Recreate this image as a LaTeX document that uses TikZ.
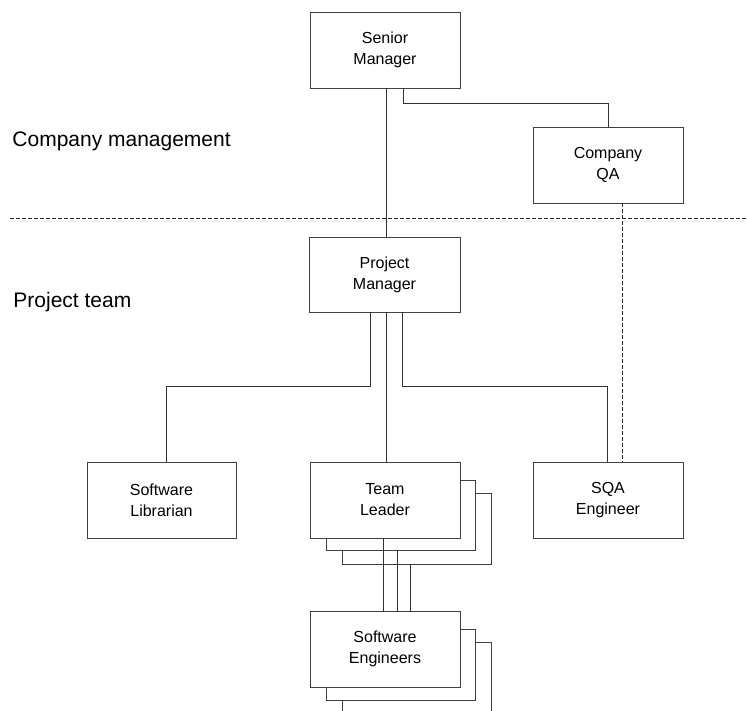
\documentclass[tikz,border=0pt]{standalone}
\usepackage{fontspec}
\setmainfont{Liberation Sans}
\begin{document}
\begin{tikzpicture}[x=1pt,y=-1pt,
  line width=0.9pt,
  ln/.style={draw=black!80},
  box/.style={draw=black!75, fill=white, minimum width=150pt, minimum height=76pt,
    inner sep=0pt, align=center, font=\fontsize{16}{21}\selectfont},
  shadowbox/.style={draw=black!75, fill=white, inner sep=0pt},
  lbl/.style={anchor=base west, inner sep=0pt, font=\fontsize{21}{25}\selectfont},
  dl/.style={draw=black!85, dash pattern=on 4pt off 2pt, line width=0.8pt}]
\useasboundingbox (0,0) rectangle (747,710);

% labels
\node[lbl] (cm) at (12,146) {Company management};
\node[lbl] (pt) at (13,307) {Project team};

% separator
\coordinate (sepL) at (10,218);
\coordinate (sepR) at (747,218);
\draw[dl] (sepL) -- (sepR);

% main boxes
\node[box] (SM) at (385,50) {Senior\\Manager};
\node[box] (QA) at (608,165) {Company\\QA};
\node[box, minimum width=151pt, minimum height=75pt] (PM) at (384.5,274.5) {Project\\Manager};
\node[box, minimum width=149pt] (SL) at (161.5,500) {Software\\Librarian};
\node[box] (SQA) at (608,500) {SQA\\Engineer};

% team leader stack
\node[shadowbox, minimum width=149pt, minimum height=71pt] (TL3) at (416.5,528.5) {};
\node[shadowbox, minimum width=149pt, minimum height=70pt] (TL2) at (400.5,515) {};
\node[box] (TL) at (385,500) {Team\\Leader};

% software engineers stack
\node[shadowbox, minimum width=149pt, minimum height=100pt] (SE3) at (416.5,692) {};
\node[shadowbox, minimum width=149pt, minimum height=71pt] (SE2) at (400.5,664.5) {};
\node[box] (SE) at (385,649) {Software\\Engineers};

% connectors
\draw[ln] ([xshift=1.5pt]SM.south) -- ([xshift=1.5pt]SM.south |- PM.north);
\draw[ln] ([xshift=18pt]SM.south) -- ++(0,15) -| (QA.north);
\draw[ln] ([xshift=-14.5pt]PM.south) -- ++(0,74) -| ([xshift=4.5pt]SL.north);
\draw[ln] ([xshift=1.5pt]PM.south) -- ([xshift=1.5pt]PM.south |- TL.north);
\draw[ln] ([xshift=17.5pt]PM.south) -- ++(0,74) -| ([xshift=-1pt]SQA.north);
\draw[dl] ([xshift=14pt]QA.south) -- ([xshift=14pt]SQA.north);

\draw[ln] ([xshift=-2pt]TL.south) -- ([xshift=-2pt]SE.north);
\draw[ln] ([xshift=-3.5pt]TL2.south) -- ([xshift=-3.5pt]TL2.south |- SE.north);
\draw[ln] ([xshift=-6.5pt]TL3.south) -- ([xshift=-6.5pt]TL3.south |- SE.north);
\end{tikzpicture}
\end{document}
